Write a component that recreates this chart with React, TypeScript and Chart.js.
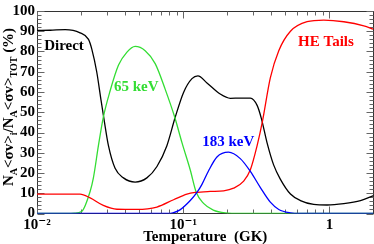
import React, { useEffect, useRef } from 'react';
import { Chart, registerables } from 'chart.js';

Chart.register(...registerables);

// ---- data (temperature in GK, contribution in %) ----
const directT = [0.01, 0.0123, 0.0156, 0.0197, 0.0225, 0.0237, 0.0256, 0.0274, 0.0288, 0.0308, 0.0342, 0.039, 0.0469, 0.0564, 0.0661, 0.0773, 0.0881, 0.1005, 0.1147, 0.126, 0.1453, 0.179, 0.21, 0.2456, 0.2877, 0.32, 0.342, 0.374, 0.415, 0.461, 0.541, 0.633, 0.78, 0.964, 1.253, 1.63, 2.0];
const directPct = [90.4, 90.5, 90.8, 89.2, 86, 81.2, 70, 56, 46, 33.5, 22.3, 17.6, 15.5, 17.6, 23.2, 33.5, 47.5, 59.8, 66.6, 68, 64.5, 59, 56.9, 57, 57, 53.4, 47, 35, 24, 17, 9.6, 6.4, 4.5, 4.2, 4.9, 6.4, 8.8];

const res65T = [0.01, 0.015, 0.018, 0.0202, 0.0231, 0.0243, 0.0263, 0.0284, 0.0316, 0.0361, 0.0411, 0.0469, 0.0549, 0.0643, 0.0753, 0.0875, 0.098, 0.1117, 0.1227, 0.1377, 0.1605, 0.194, 0.246, 2.0];
const res65Pct = [0, 0, 0.2, 1, 11, 17.6, 33.5, 47.5, 60.5, 73.3, 79.6, 82.5, 80.4, 74, 61.3, 47.5, 35, 21.5, 10.5, 5, 1.7, 0.3, 0, 0];

const tailsT = [0.01, 0.0197, 0.0231, 0.0284, 0.0352, 0.0482, 0.0661, 0.0859, 0.106, 0.1208, 0.153, 0.189, 0.221, 0.259, 0.2877, 0.32, 0.348, 0.394, 0.45, 0.541, 0.703, 0.914, 1.253, 1.717, 2.0];
const tailsPct = [9.6, 9.6, 7.7, 4, 2.1, 2, 3.2, 6.8, 9.6, 10.4, 10.9, 11.2, 12.5, 16, 21.6, 33.5, 45.5, 67, 80.4, 90, 94.7, 95.5, 94.7, 92.7, 91];

const res183T = [0.01, 0.079, 0.085, 0.095, 0.1117, 0.1241, 0.1343, 0.1488, 0.17, 0.204, 0.2456, 0.2877, 0.337, 0.394, 0.45, 0.541, 0.63, 2.0];
const res183Pct = [0, 0, 0.3, 1.8, 6.4, 10.4, 14.4, 21, 27.9, 30.3, 27.1, 20.8, 12.8, 5.6, 2, 0.3, 0, 0];

const xMin = 0.01;
const xMax = 2;
const yMin = 0;
const yMax = 100;
const yStep = 10;
const xMajorTicks = [0.01, 0.1, 1];
const xTickLabels = ['10⁻²', '10⁻¹', '1'];
const xTitle = 'Temperature  (GK)';
const yTitleParts = [
  { t: 'N', sub: false }, { t: 'A', sub: true }, { t: '<σv>', sub: false }, { t: 'i', sub: true },
  { t: '/N', sub: false }, { t: 'A', sub: true }, { t: '<σv>', sub: false }, { t: 'TOT', sub: true },
  { t: ' (%)', sub: false },
];
const labelTexts = ['Direct', '65 keV', 'HE Tails', '183 keV'];
const labelT = [0.0153, 0.0477, 0.946, 0.203];
const labelPct = [82.8, 62.3, 84.7, 35.1];
const labelColors = ['#000000', '#33dd33', '#ff0000', '#0000ff'];

const SERIF = '"Liberation Serif", "Times New Roman", "DejaVu Serif", serif';

const zip = (xs: number[], ys: number[]) => xs.map((x, i) => ({ x, y: ys[i] }));

const decorPlugin = {
  id: 'decor',
  beforeDatasetsDraw(chart: any) {
    const { ctx, chartArea: a, scales } = chart;
    const xs = scales.x, ys = scales.y;
    const L = Math.round(a.left) + 0.5, R = Math.round(a.right) - 0.5;
    const T = Math.round(a.top) + 0.5, B = Math.round(a.bottom) - 0.5;
    ctx.save();
    ctx.strokeStyle = '#333';
    ctx.lineWidth = 1;
    ctx.strokeRect(L, T, R - L, B - T);
    ctx.strokeStyle = '#666';
    ctx.beginPath();
    for (let v = yMin; v <= yMax; v += 2) {
      const y = Math.round(ys.getPixelForValue(v)) + 0.5;
      const len = v % 10 === 0 ? 7 : 4;
      ctx.moveTo(L, y); ctx.lineTo(L + len, y);
      ctx.moveTo(R, y); ctx.lineTo(R - len, y);
    }
    for (let e = -2; e <= 0; e++) {
      for (let k = 1; k <= 9; k++) {
        const v = k * Math.pow(10, e);
        if (v < xMin - 1e-9 || v > xMax + 1e-9) continue;
        const x = Math.round(xs.getPixelForValue(v)) + 0.5;
        const len = k === 1 ? 7 : 4;
        ctx.moveTo(x, B); ctx.lineTo(x, B - len);
        ctx.moveTo(x, T); ctx.lineTo(x, T + len);
      }
    }
    ctx.stroke();
    ctx.restore();
  },
  afterDraw(chart: any) {
    const { ctx, chartArea: a, scales } = chart;
    ctx.save();
    // annotations
    ctx.font = `bold 15px ${SERIF}`;
    ctx.textAlign = 'center';
    ctx.textBaseline = 'middle';
    labelTexts.forEach((txt, i) => {
      ctx.fillStyle = labelColors[i];
      ctx.fillText(txt, scales.x.getPixelForValue(labelT[i]), scales.y.getPixelForValue(labelPct[i]));
    });
    // x title
    ctx.fillStyle = '#000';
    ctx.textBaseline = 'alphabetic';
    ctx.font = `bold 15px ${SERIF}`;
    ctx.fillText(xTitle, (a.left + a.right) / 2, 241);
    // y title with subscripts
    const mainFont = `bold 15px ${SERIF}`;
    const subFont = `bold 10px ${SERIF}`;
    let total = 0;
    const widths = yTitleParts.map((p) => {
      ctx.font = p.sub ? subFont : mainFont;
      const w = ctx.measureText(p.t).width;
      total += w;
      return w;
    });
    ctx.translate(13, 107);
    ctx.rotate(-Math.PI / 2);
    ctx.textAlign = 'left';
    let pos = -total / 2;
    yTitleParts.forEach((p, i) => {
      ctx.font = p.sub ? subFont : mainFont;
      ctx.fillText(p.t, pos, p.sub ? 3.5 : 0);
      pos += widths[i];
    });
    ctx.restore();
  },
};

export default function App() {
  const ref = useRef<HTMLCanvasElement>(null);
  useEffect(() => {
    if (!ref.current) return;
    Chart.defaults.color = '#000';
    const common = { pointRadius: 0, borderWidth: 1.3, cubicInterpolationMode: 'monotone' as const, fill: false };
    const chart = new Chart(ref.current, {
      type: 'line',
      data: {
        datasets: [
          { ...common, label: '183 keV', data: zip(res183T, res183Pct), borderColor: '#0000ff' },
          { ...common, label: 'HE Tails', data: zip(tailsT, tailsPct), borderColor: '#ff0000' },
          { ...common, label: '65 keV', data: zip(res65T, res65Pct), borderColor: '#33dd33' },
          { ...common, label: 'Direct', data: zip(directT, directPct), borderColor: '#000000' },
        ],
      },
      options: {
        animation: false,
        responsive: true,
        maintainAspectRatio: false,
        layout: { padding: { top: 4, right: 0.5, left: 0, bottom: 0 } },
        plugins: { legend: { display: false }, tooltip: { enabled: false } },
        scales: {
          x: {
            type: 'logarithmic',
            min: xMin,
            max: xMax,
            grid: { display: false, drawTicks: false },
            border: { display: false },
            afterBuildTicks: (s: any) => { s.ticks = xMajorTicks.map((v) => ({ value: v })); },
            afterFit: (s: any) => { s.height = 30.5; },
            ticks: {
              autoSkip: false,
              maxRotation: 0,
              padding: 3,
              color: '#000',
              font: { family: SERIF, size: 15, weight: 'bold' },
              callback: (v: any) => {
                const i = xMajorTicks.findIndex((m) => Math.abs(m - Number(v)) < 1e-9);
                return i >= 0 ? xTickLabels[i] : '';
              },
            },
          },
          y: {
            type: 'linear',
            min: yMin,
            max: yMax,
            grid: { display: false, drawTicks: false },
            border: { display: false },
            afterFit: (s: any) => { s.width = 37; },
            ticks: {
              stepSize: yStep,
              autoSkip: false,
              padding: 2,
              color: '#000',
              font: { family: SERIF, size: 15, weight: 'bold' },
            },
          },
        },
      },
      plugins: [decorPlugin],
    });
    return () => chart.destroy();
  }, []);
  return (
    <div style={{ position: 'fixed', left: 0, top: 0, width: 374, height: 244, background: '#fff' }}>
      <canvas ref={ref} />
    </div>
  );
}
